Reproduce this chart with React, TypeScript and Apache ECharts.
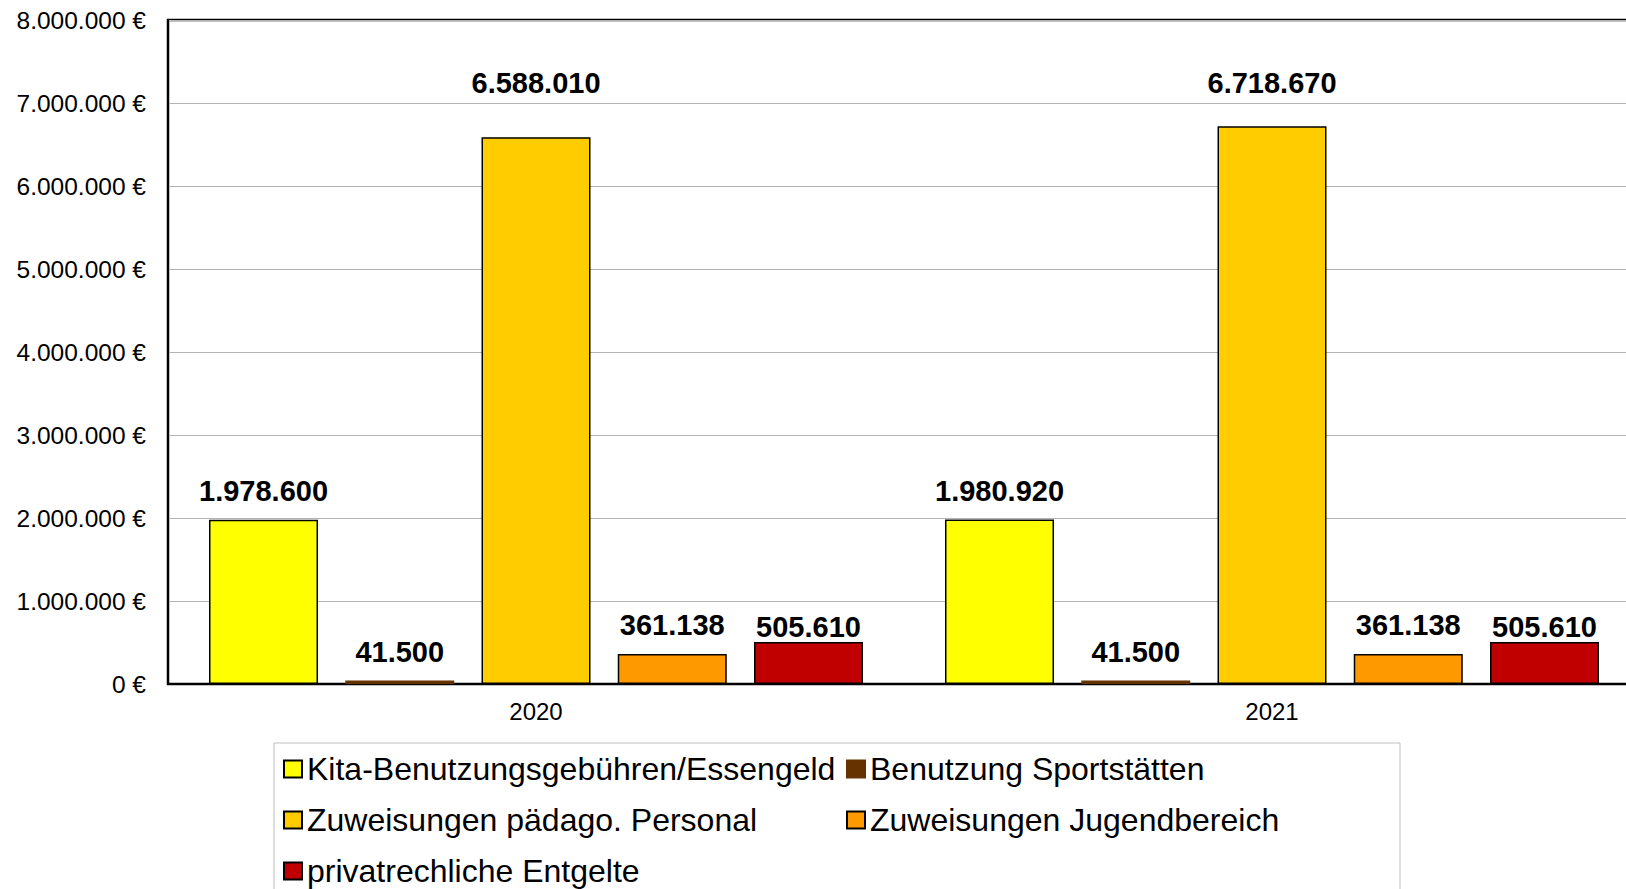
import React, { useEffect, useRef } from "react";
import * as echarts from "echarts";

const categories = ["2020", "2021"];
const seriesNames = [
  "Kita-Benutzungsgebühren/Essengeld",
  "Benutzung Sportstätten",
  "Zuweisungen pädago. Personal",
  "Zuweisungen Jugendbereich",
  "privatrechliche Entgelte",
];
const kita = [1978600, 1980920];
const sport = [41500, 41500];
const personal = [6588010, 6718670];
const jugend = [361138, 361138];
const entgelte = [505610, 505610];
const colors = ["#FFFF00", "#663300", "#FFCC00", "#FF9900", "#C00000"];
const yTicks = [0, 1000000, 2000000, 3000000, 4000000, 5000000, 6000000, 7000000, 8000000];

// label distance above bar (px) per series / per category (manual label placement of original)
const labelDistance = [
  [14, 14],
  [14, 14],
  [40, 29],
  [15, 15],
  [1, 1],
];

const FONT = "'Liberation Sans', Arial, sans-serif";

function fmt(v: number): string {
  return Math.round(v)
    .toString()
    .replace(/\B(?=(\d{3})+(?!\d))/g, ".");
}

export default function App() {
  const ref = useRef<HTMLDivElement>(null);
  useEffect(() => {
    if (!ref.current) return;
    const chart = echarts.init(ref.current, undefined, { renderer: "svg" });
    const data = [kita, sport, personal, jugend, entgelte];
    const series = data.map((d, i) => ({
      name: seriesNames[i],
      type: "bar",
      data: d.map((v, j) => ({ value: v, label: { distance: labelDistance[i][j] } })),
      barWidth: 109,
      barGap: "25%",
      itemStyle: {
        color: colors[i],
        borderColor: i === 1 ? colors[1] : "#000",
        borderWidth: 1.5,
      },
      label: {
        show: true,
        position: "top",
        fontFamily: FONT,
        fontSize: 29,
        fontWeight: "bold",
        color: "#000",
        formatter: (p: any) => fmt(p.value),
      },
    }));
    chart.setOption({
      animation: false,
      backgroundColor: "#fff",
      textStyle: { fontFamily: FONT },
      grid: {
        left: 168,
        top: 20,
        right: 0,
        bottom: 205,
        show: true,
        borderColor: "#000",
        borderWidth: 2.5,
        containLabel: false,
        outerBoundsMode: "none",
      },
      legend: {
        left: 274,
        top: 743,
        width: 1120,
        padding: [5, 0, 5, 9],
        itemWidth: 18,
        itemHeight: 17,
        itemGap: 9,
        borderColor: "#BFBFBF",
        borderWidth: 1,
        icon: "rect",
        textStyle: {
          fontFamily: FONT,
          fontSize: 32,
          color: "#000",
          width: 530,
          lineHeight: 42,
        },
        data: seriesNames,
      },
      xAxis: {
        type: "category",
        data: categories,
        axisLine: { lineStyle: { color: "#000", width: 2 } },
        axisTick: { show: false },
        axisLabel: { fontFamily: FONT, fontSize: 24, color: "#000", margin: 15 },
      },
      yAxis: {
        type: "value",
        min: yTicks[0],
        max: yTicks[yTicks.length - 1],
        interval: 1000000,
        axisLine: { show: true, lineStyle: { color: "#000", width: 2 } },
        axisTick: { show: false },
        splitLine: { lineStyle: { color: "#B3B3B3", width: 1 } },
        axisLabel: {
          fontFamily: FONT,
          fontSize: 24.5,
          color: "#000",
          margin: 22,
          formatter: (v: number) => fmt(v) + " €",
        },
      },
      series,
    });
    return () => chart.dispose();
  }, []);
  return (
    <div style={{ position: "fixed", left: 0, top: 0, width: 1626, height: 889, overflow: "hidden" }}>
      <div ref={ref} style={{ width: 1640, height: 889 }} />
    </div>
  );
}
